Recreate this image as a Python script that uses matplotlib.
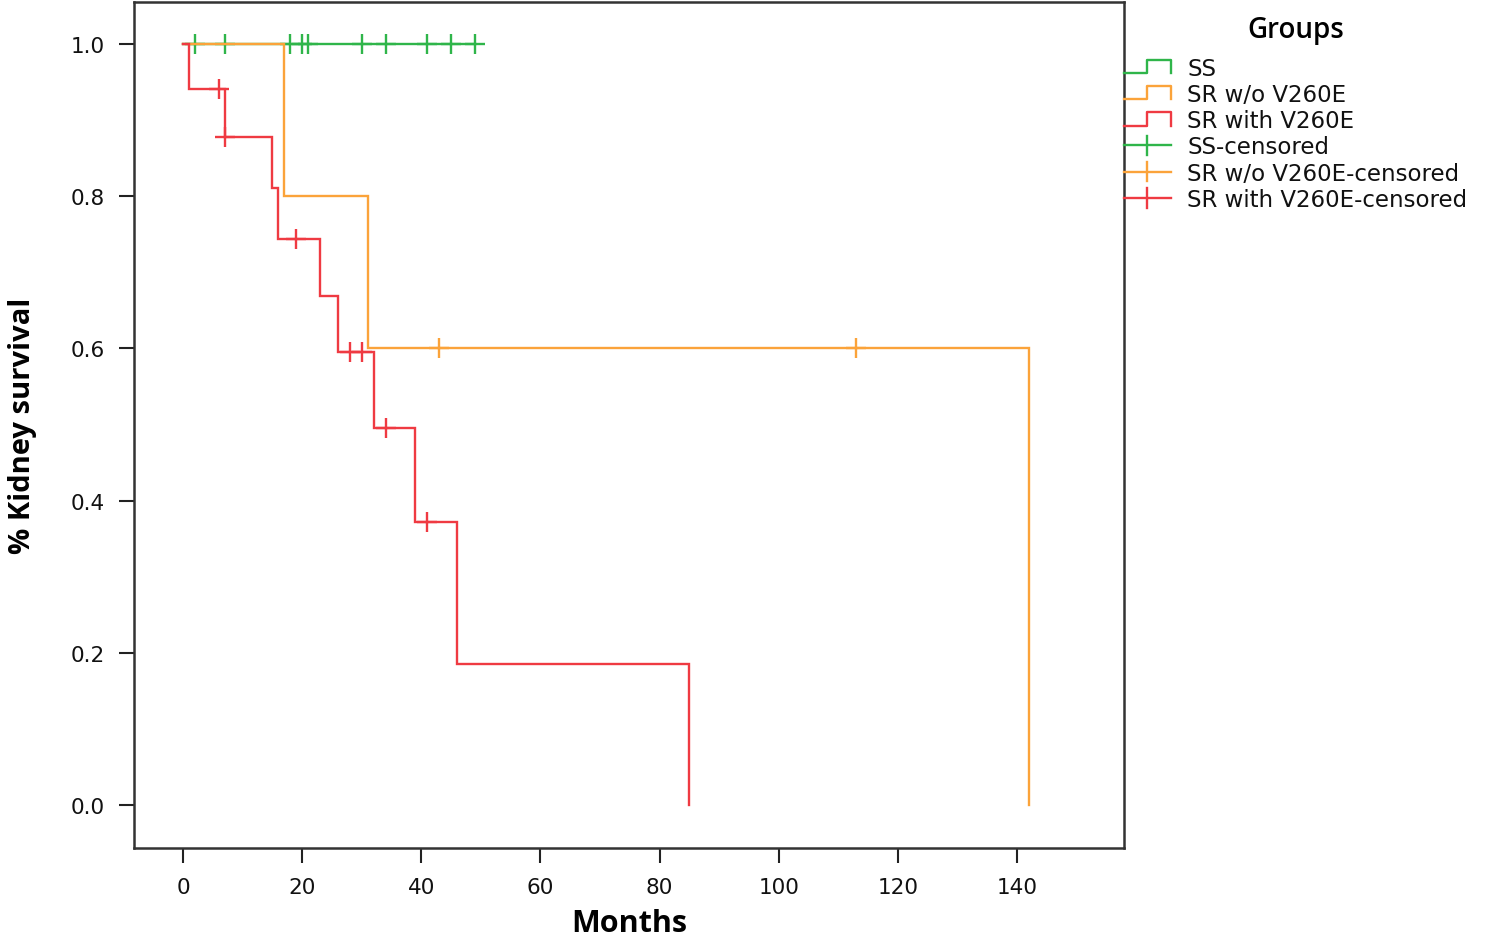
import numpy as np
import matplotlib
matplotlib.use("Agg")
import matplotlib.pyplot as plt
from matplotlib.legend_handler import HandlerBase
from matplotlib.lines import Line2D

# ---------------- data (months, event flag: 1 = kidney failure, 0 = censored)
groups = ["SS", "SR w/o V260E", "SR with V260E"]
colors = ["#2fb54a", "#fba33a", "#ef3a42"]

ss_times = [2, 7, 18, 20, 21, 30, 34, 41, 45, 49]
ss_events = [0, 0, 0, 0, 0, 0, 0, 0, 0, 0]

srwo_times = [17, 31, 43, 113, 142]
srwo_events = [1, 1, 0, 0, 1]

srw_times = [1, 6, 7, 7, 15, 16, 19, 23, 26, 28, 30, 32, 34, 39, 41, 46, 85]
srw_events = [1, 0, 1, 0, 1, 1, 0, 1, 1, 0, 0, 1, 0, 1, 0, 1, 1]

xticks = [0, 20, 40, 60, 80, 100, 120, 140]
yticks = [0.0, 0.2, 0.4, 0.6, 0.8, 1.0]


def kaplan_meier(times, events):
    t = np.asarray(times, float)
    e = np.asarray(events, int)
    order = np.lexsort((-e, t))
    t, e = t[order], e[order]
    n = len(t)
    s = 1.0
    xs, ys = [0.0], [1.0]
    cens_x, cens_y = [], []
    at_risk = n
    for u in np.unique(t):
        d = int(np.sum((t == u) & (e == 1)))
        c = int(np.sum((t == u) & (e == 0)))
        if d > 0:
            xs.append(u); ys.append(s)
            s = s * (at_risk - d) / at_risk
            xs.append(u); ys.append(s)
        if c > 0:
            cens_x.append(u); cens_y.append(s)
        at_risk -= d + c
    if xs[-1] < t.max():
        xs.append(t.max()); ys.append(s)
    return xs, ys, cens_x, cens_y


fig = plt.figure(figsize=(15, 9.45), dpi=100)
ax = fig.add_axes([134 / 1500, 1 - 849 / 945, (1124 - 134) / 1500, (849 - 3) / 945])

data = [(ss_times, ss_events), (srwo_times, srwo_events), (srw_times, srw_events)]
for (tt, ee), col in zip(data, colors):
    xs, ys, cx, cy = kaplan_meier(tt, ee)
    ax.plot(xs, ys, color=col, lw=1.7, solid_joinstyle="miter")
    ax.plot(cx, cy, linestyle="none", marker="+", markersize=14, mew=1.7, color=col)

x_per_px = 140 / (1017 - 183)
y_per_px = 1.0 / (806 - 45)
ax.set_xlim(-(183 - 134) * x_per_px, (1124 - 183) * x_per_px)
ax.set_ylim(-(849 - 806) * y_per_px, 1 + (45 - 3) * y_per_px)

ax.set_xticks(xticks)
ax.set_yticks(yticks)
ax.set_yticklabels([f"{v:.1f}" for v in yticks])
ax.tick_params(axis="both", direction="out", length=11, width=1.5, color="#222222",
               labelsize=15.5, pad=10)
for lab in ax.get_xticklabels() + ax.get_yticklabels():
    lab.set_fontfamily("DejaVu Sans")
    lab.set_color("#111111")
for sp in ax.spines.values():
    sp.set_linewidth(1.8)
    sp.set_color("#333333")

ax.set_xlabel("Months", fontsize=22, fontweight="bold", family="Open Sans", labelpad=8)
ax.set_ylabel("% Kidney survival", fontsize=21, fontweight="bold", family="Open Sans", labelpad=24)


class StepHandler(HandlerBase):
    def create_artists(self, legend, orig_handle, xdescent, ydescent, width, height, fontsize, trans):
        x0, y0 = -xdescent, -ydescent
        lo, hi = y0, y0 + height
        xs = [x0, x0 + 0.5 * width, x0 + 0.5 * width, x0 + width, x0 + width]
        ys = [lo, lo, hi, hi, lo]
        ln = Line2D(xs, ys, color=orig_handle.get_color(), lw=1.7, transform=trans)
        return [ln]


class CensHandler(HandlerBase):
    def create_artists(self, legend, orig_handle, xdescent, ydescent, width, height, fontsize, trans):
        x0, y0 = -xdescent, -ydescent
        ym = y0 + 0.5 * height
        ln = Line2D([x0, x0 + width], [ym, ym], color=orig_handle.get_color(), lw=1.7, transform=trans)
        xm = x0 + 0.5 * width
        tk = Line2D([xm, xm], [ym - 0.75 * height, ym + 0.75 * height],
                    color=orig_handle.get_color(), lw=1.7, transform=trans)
        return [ln, tk]


step_handles = [Line2D([], [], color=c) for c in colors]
cens_handles = [Line2D([], [], color=c, marker="+") for c in colors]
labels = groups + [g + "-censored" for g in groups]
handler_map = {h: StepHandler() for h in step_handles}
handler_map.update({h: CensHandler() for h in cens_handles})

leg = fig.legend(step_handles + cens_handles, labels, handler_map=handler_map,
                 loc="upper left", bbox_to_anchor=(1124 / 1500, 1 - 16 / 945),
                 frameon=False, title="Groups",
                 prop={"family": "DejaVu Sans", "size": 16.5},
                 handlelength=2.05, handleheight=0.5, handletextpad=0.72,
                 labelspacing=0.145, borderpad=0, borderaxespad=0)
leg.get_title().set_fontsize(20)
leg.get_title().set_family("Open Sans")
leg.get_title().set_fontweight("semibold")
leg._legend_box.sep = 9
for t in leg.get_texts():
    t.set_color("#111111")

fig.savefig("out.png", dpi=100, facecolor="white")
